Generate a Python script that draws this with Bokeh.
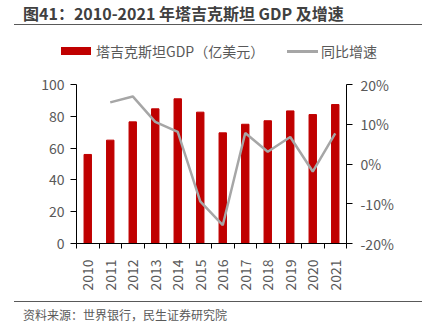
from bokeh.plotting import figure
from bokeh.models import (Range1d, LinearAxis, FixedTicker, Div, CustomJSTickFormatter, Column)
from bokeh.embed import file_html
from bokeh.resources import INLINE

years = ["2010", "2011", "2012", "2013", "2014", "2015", "2016", "2017", "2018", "2019", "2020", "2021"]
gdp = [56, 65, 76.5, 84.7, 91, 82.6, 69.6, 75, 77.2, 83.4, 81.1, 87.4]
growth_years = ["2011", "2012", "2013", "2014", "2015", "2016", "2017", "2018", "2019", "2020", "2021"]
growth = [15.5, 17.0, 10.6, 8.1, -9.4, -15.4, 7.8, 3.1, 6.8, -1.9, 7.7]
left_ticks = [0, 20, 40, 60, 80, 100]
right_ticks = [-20, -10, 0, 10, 20]
series_names = ["塔吉克斯坦GDP（亿美元）", "同比增速"]

FONT = "Noto Sans CJK SC"
TXT = "#595959"
RED = "#C00000"
GRAY = "#A6A6A6"

xc = [i + 0.5 for i in range(len(years))]
xg = [years.index(y) + 0.5 for y in growth_years]

# ---- main chart ----
p = figure(width=422, height=239, output_backend="svg", toolbar_location=None,
           x_range=Range1d(0, len(years)), y_range=Range1d(0, 100),
           min_border_left=76, min_border_right=76, min_border_top=22, min_border_bottom=58,
           margin=(0, 0, 0, 0))
p.extra_y_ranges = {"pct": Range1d(-20, 20)}
p.outline_line_color = None
p.xgrid.visible = False
p.ygrid.visible = False

p.vbar(x=xc, top=gdp, width=0.33, color=RED, legend_label=series_names[0])
p.line(x=xg, y=growth, y_range_name="pct", line_color=GRAY, line_width=2.5, legend_label=series_names[1])
p.legend.visible = False

xa = p.xaxis[0]
xa.ticker = FixedTicker(ticks=xc, minor_ticks=list(range(len(years) + 1)))
xa.major_label_overrides = {x: y for x, y in zip(xc, years)}
xa.minor_tick_out = 5
xa.minor_tick_in = 0
xa.minor_tick_line_color = "black"
xa.major_label_orientation = 1.5708
xa.major_label_standoff = 10

ya = p.yaxis[0]
ya.ticker = FixedTicker(ticks=left_ticks)
ya.major_tick_out = 6
ya.major_tick_in = 0
ya.minor_tick_line_color = None
ya.major_label_standoff = 6

ra = LinearAxis(y_range_name="pct", ticker=FixedTicker(ticks=right_ticks),
                formatter=CustomJSTickFormatter(code="return tick + '%';"))
ra.major_tick_out = 6
ra.major_tick_in = 0
ra.minor_tick_line_color = None
ra.major_label_standoff = 8
p.add_layout(ra, "right")

for ax in (xa, ya, ra):
    ax.axis_line_color = "black"
    ax.major_tick_line_color = "black"
    ax.major_label_text_font = FONT
    ax.major_label_text_font_size = "14px"
    ax.major_label_text_color = TXT
xa.major_tick_line_color = None

# ---- legend strip (HTML) ----
legend_html = (
    f"<div style='position:relative;width:422px;height:37px;font-family:\"{FONT}\";"
    f"font-size:14px;color:{TXT};'>"
    f"<span style='position:absolute;left:61px;top:22px;width:30px;height:8px;background:{RED};'></span>"
    f"<span style='position:absolute;left:96px;top:16px;line-height:20px;white-space:nowrap;'>{series_names[0]}</span>"
    f"<span style='position:absolute;left:287px;top:25px;width:31px;height:2.5px;background:{GRAY};'></span>"
    f"<span style='position:absolute;left:321px;top:16px;line-height:20px;white-space:nowrap;'>{series_names[1]}</span>"
    f"</div>"
)
legend = Div(text=legend_html, width=422, height=37, margin=(0, 0, 0, 0))

title = Div(text="图41：2010-2021 年塔吉克斯坦 GDP 及增速", width=408, height=25, margin=(0, 0, 0, 14),
            styles={"border-bottom": "1.5px solid #595959", "font-family": FONT, "font-size": "16px",
                    "font-weight": "bold", "color": "#404040", "padding-left": "9px",
                    "line-height": "23px", "padding-top": "2px", "box-sizing": "border-box"})
source = Div(text="资料来源：世界银行，民生证券研究院", width=408, height=32, margin=(0, 0, 0, 14),
             styles={"border-top": "1.5px solid #595959", "font-family": FONT, "font-size": "12px",
                     "color": TXT, "padding-left": "9px", "padding-top": "4px", "box-sizing": "border-box"})

layout = Column(children=[title, legend, p, source], spacing=0, margin=(0, 0, 0, 0))

open("out.html", "w").write(file_html(layout, INLINE))
